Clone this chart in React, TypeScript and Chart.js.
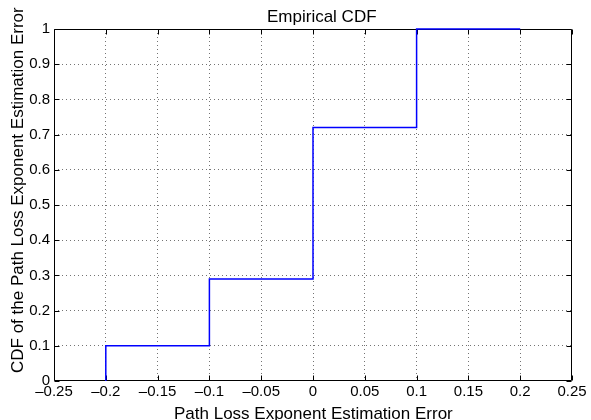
import React, { useEffect, useRef } from "react";
import { Chart, registerables } from "chart.js";

Chart.register(...registerables);

// Empirical CDF of the estimation error (stepped line through the jump points)
const errorValues = [-0.2, -0.2, -0.1, 0, 0.1, 0.2];
const cdfValues = [0, 0.1, 0.29, 0.72, 1, 1];

const xTicks = [-0.25, -0.2, -0.15, -0.1, -0.05, 0, 0.05, 0.1, 0.15, 0.2, 0.25];
const yTicks = [0, 0.1, 0.2, 0.3, 0.4, 0.5, 0.6, 0.7, 0.8, 0.9, 1];

const chartTitle = "Empirical CDF";
const xTitle = "Path Loss Exponent Estimation Error";
const yTitle = "CDF of the Path Loss Exponent Estimation Error";

const FONT = "'Liberation Sans', Arial, Helvetica, sans-serif";
const GRID_COLOR = "rgba(70,70,70,0.75)";

const fmt = (v: number) => {
  const s = String(parseFloat(v.toFixed(2)));
  return s.startsWith("-") ? "\u2013" + s.slice(1) : s;
};

// Box around the axes with inward tick marks on all four sides
const framePlugin = {
  id: "axesFrame",
  beforeDatasetsDraw(chart: any) {
    const { ctx, chartArea: a, scales } = chart;
    const L = Math.round(a.left) + 0.5;
    const R = Math.round(a.right) - 0.5;
    const T = Math.round(a.top) + 0.5;
    const B = Math.round(a.bottom) - 0.5;
    const len = 5;
    ctx.save();
    ctx.strokeStyle = "#000";
    ctx.lineWidth = 1;
    ctx.beginPath();
    ctx.rect(L, T, R - L, B - T);
    xTicks.forEach((v) => {
      const x = Math.round(scales.x.getPixelForValue(v)) + 0.5;
      ctx.moveTo(x, B);
      ctx.lineTo(x, B - len);
      ctx.moveTo(x, T);
      ctx.lineTo(x, T + len);
    });
    yTicks.forEach((v) => {
      const y = Math.round(scales.y.getPixelForValue(v)) + 0.5;
      ctx.moveTo(L, y);
      ctx.lineTo(L + len, y);
      ctx.moveTo(R, y);
      ctx.lineTo(R - len, y);
    });
    ctx.stroke();
    ctx.restore();
  },
};

// Chart title and axis labels, anchored at their start like the original figure
const labelsPlugin = {
  id: "axesLabels",
  afterDraw(chart: any) {
    const { ctx, chartArea: a } = chart;
    ctx.save();
    ctx.fillStyle = "#000";
    ctx.font = `17px ${FONT}`;
    ctx.textAlign = "left";
    ctx.textBaseline = "alphabetic";
    ctx.fillText(chartTitle, a.left + 213, a.top - 7);
    ctx.fillText(xTitle, a.left + 120, a.bottom + 38);
    ctx.translate(a.left - 31, a.bottom - 8);
    ctx.rotate(-Math.PI / 2);
    ctx.fillText(yTitle, 0, 0);
    ctx.restore();
  },
};

export default function App() {
  const canvasRef = useRef<HTMLCanvasElement | null>(null);

  useEffect(() => {
    document.body.style.margin = "0";
    const canvas = canvasRef.current;
    if (!canvas) return;

    const chart = new Chart(canvas, {
      type: "line",
      data: {
        datasets: [
          {
            data: errorValues.map((x, i) => ({ x, y: cdfValues[i] })),
            borderColor: "#0000ff",
            borderWidth: 1.5,
            pointRadius: 0,
            stepped: "before",
            fill: false,
            clip: false,
          },
        ],
      },
      plugins: [framePlugin, labelsPlugin],
      options: {
        animation: false,
        responsive: false,
        devicePixelRatio: 1,
        layout: { padding: { left: 0, right: 19, top: 29, bottom: 0 } },
        plugins: {
          legend: { display: false },
          tooltip: { enabled: false },
          title: { display: false },
        },
        scales: {
          x: {
            type: "linear",
            min: -0.25,
            max: 0.25,
            afterBuildTicks: (s: any) => {
              s.ticks = xTicks.map((value) => ({ value }));
            },
            afterFit: (s: any) => {
              s.height = 39;
            },
            border: { display: false, dash: [1, 3] },
            grid: {
              drawTicks: false,
              lineWidth: 1,
              color: (c: any) =>
                c.tick && (c.tick.value <= -0.25 || c.tick.value >= 0.25)
                  ? "rgba(0,0,0,0)"
                  : GRID_COLOR,
            },
            ticks: {
              color: "#000",
              font: { family: FONT, size: 15, lineHeight: 1.2 },
              padding: 2,
              maxRotation: 0,
              autoSkip: false,
              callback: (v: any) => fmt(Number(v)),
            },
          },
          y: {
            type: "linear",
            min: 0,
            max: 1,
            afterBuildTicks: (s: any) => {
              s.ticks = yTicks.map((value) => ({ value }));
            },
            afterFit: (s: any) => {
              s.width = 54;
            },
            border: { display: false, dash: [1, 3] },
            grid: {
              drawTicks: false,
              lineWidth: 1,
              color: (c: any) =>
                c.tick && (c.tick.value <= 0 || c.tick.value >= 1)
                  ? "rgba(0,0,0,0)"
                  : GRID_COLOR,
            },
            ticks: {
              color: "#000",
              font: { family: FONT, size: 15 },
              padding: 4,
              autoSkip: false,
              callback: (v: any) => fmt(Number(v)),
            },
          },
        },
      },
    } as any);

    return () => chart.destroy();
  }, []);

  return <canvas ref={canvasRef} width={591} height={420} style={{ display: "block" }} />;
}
